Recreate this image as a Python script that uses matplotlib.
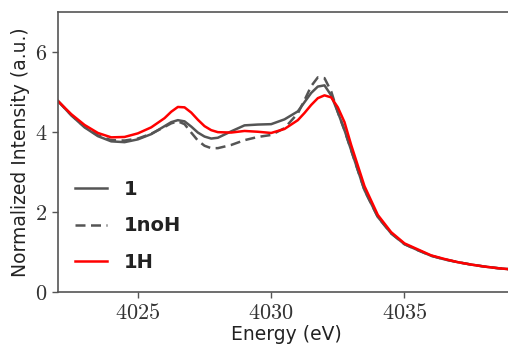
import matplotlib
matplotlib.use("Agg")
import matplotlib.pyplot as plt

# values
energy = [4022, 4022.5, 4023, 4023.5, 4024, 4024.5, 4025, 4025.5, 4026, 4026.25,
          4026.5, 4026.75, 4027, 4027.25, 4027.5, 4027.75, 4028, 4028.5, 4029, 4029.5,
          4030, 4030.5, 4031, 4031.25, 4031.5, 4031.75, 4032, 4032.25, 4032.5, 4032.75,
          4033, 4033.5, 4034, 4034.5, 4035, 4035.5, 4036, 4036.5, 4037, 4037.5,
          4038, 4038.5, 4039]

int_1 = [4.78, 4.42, 4.12, 3.90, 3.77, 3.75, 3.82, 3.95, 4.15, 4.25,
         4.30, 4.27, 4.14, 3.99, 3.89, 3.84, 3.86, 4.02, 4.17, 4.19,
         4.20, 4.32, 4.52, 4.75, 4.98, 5.14, 5.17, 4.92, 4.50, 4.05,
         3.55, 2.55, 1.88, 1.47, 1.20, 1.05, 0.91, 0.82, 0.75, 0.69,
         0.64, 0.60, 0.57]

int_1noH = [4.78, 4.43, 4.13, 3.92, 3.80, 3.79, 3.84, 3.96, 4.13, 4.22,
            4.27, 4.20, 3.99, 3.79, 3.66, 3.60, 3.60, 3.68, 3.80, 3.88,
            3.93, 4.10, 4.47, 4.80, 5.15, 5.37, 5.35, 5.02, 4.50, 4.05,
            3.55, 2.55, 1.88, 1.47, 1.20, 1.05, 0.91, 0.82, 0.75, 0.69,
            0.64, 0.60, 0.57]

int_1H = [4.78, 4.45, 4.18, 3.98, 3.87, 3.88, 3.97, 4.12, 4.35, 4.51,
          4.63, 4.62, 4.49, 4.31, 4.15, 4.05, 4.00, 3.99, 4.03, 4.01,
          3.98, 4.08, 4.30, 4.48, 4.68, 4.85, 4.92, 4.87, 4.62, 4.25,
          3.68, 2.65, 1.93, 1.50, 1.22, 1.07, 0.92, 0.83, 0.75, 0.69,
          0.64, 0.60, 0.57]

xticks = [4025, 4030, 4035]
yticks = [0, 2, 4, 6]

plt.rcParams["mathtext.fontset"] = "cm"
grey = "#555555"

fig = plt.figure(figsize=(5.08, 3.47), dpi=100)
ax = fig.add_axes([0.114, 0.158, 0.9, 0.807])

ax.plot(energy, int_1, color=grey, lw=1.8, label="1")
ax.plot(energy, int_1noH, color=grey, lw=1.8, ls=(0, (4, 2.2)), label="1noH")
ax.plot(energy, int_1H, color="#ff0000", lw=1.8, label="1H")

ax.set_xlim(4022, 4039.15)
ax.set_ylim(0, 7)
ax.set_xticks(xticks)
ax.set_xticklabels([f"${v}$" for v in xticks])
ax.set_yticks(yticks)
ax.set_yticklabels([f"${v}$" for v in yticks])
ax.tick_params(labelsize=16, colors=grey, labelcolor="#333333", length=4, width=1)
for s in ax.spines.values():
    s.set_color(grey)
    s.set_linewidth(1.2)

ax.set_xlabel("Energy (eV)", fontsize=13.5, color="#222222", labelpad=2)
ax.set_ylabel("Normalized Intensity (a.u.)", fontsize=13.5, color="#222222", labelpad=4)

leg = ax.legend(loc="lower left", bbox_to_anchor=(0.0, 0.01), frameon=False,
                handlelength=1.6, labelspacing=0.9, handletextpad=0.9,
                prop={"weight": "bold", "size": 14})
for t in leg.get_texts():
    t.set_color("#222222")

fig.savefig("out.png", dpi=100)
